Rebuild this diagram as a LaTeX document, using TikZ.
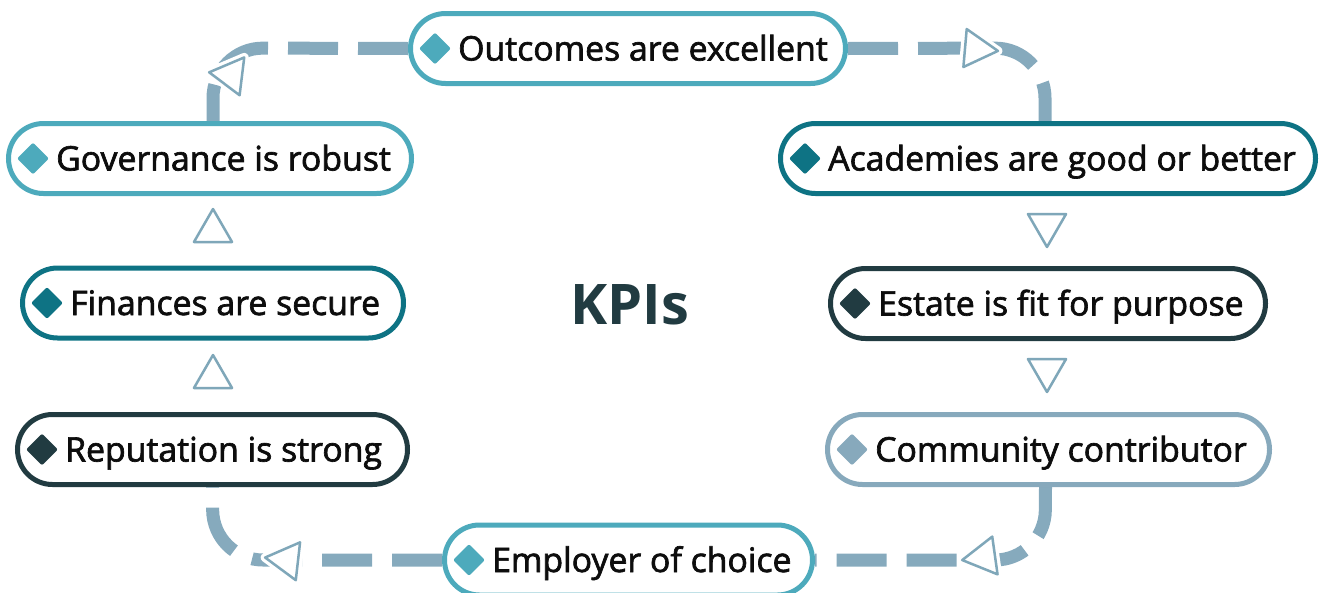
\documentclass[tikz,border=0pt]{standalone}
\usepackage{fontspec}
\setmainfont{Open Sans}
\newfontfamily\labfont[FakeBold=2]{Open Sans}
\usetikzlibrary{shapes.misc,shapes.geometric,calc}
\definecolor{cLight}{HTML}{4DAABC}
\definecolor{cTeal}{HTML}{0E7384}
\definecolor{cDark}{HTML}{213B41}
\definecolor{cGrey}{HTML}{87A9BC}
\definecolor{cLine}{HTML}{86AABD}
\definecolor{cTri}{HTML}{7FA7B9}
\begin{document}
\begin{tikzpicture}[x=1pt,y=-1pt,
 pill/.style={rounded rectangle, draw=#1, line width=5pt, fill=white, minimum height=70pt, inner sep=0pt},
 bullet/.style={diamond, fill=#1, minimum width=32pt, minimum height=32pt, inner sep=0pt, rounded corners=2pt},
 lab/.style={anchor=base west, inner sep=0pt, font=\labfont\fontsize{33.8}{35}\selectfont, text=black!95},
 flow/.style={draw=cLine, line width=13pt, dash pattern=on 50pt off 20pt, rounded corners=50pt},
 tri/.style={regular polygon, regular polygon sides=3, draw=cTri, line width=2.5pt, line join=round, fill=white, minimum size=44pt, inner sep=0pt, preaction={draw=white,line width=9pt}}
]
\useasboundingbox (0,0) rectangle (1322,592);

\path (628,48.5) coordinate (po) (210,158.5) coordinate (pg) (213,303) coordinate (pf)
 (212.5,449.5) coordinate (pr) (1048,158.5) coordinate (pa) (1048,303.5) coordinate (pe)
 (1048.5,449.5) coordinate (pc) (628.5,560) coordinate (pm);

% invisible placeholders to get anchors for connectors
\node[pill=cLight, minimum width=435pt, draw=none, fill=none] (o) at (po) {};
\node[pill=cLight, minimum width=403pt, draw=none, fill=none] (g) at (pg) {};
\node[pill=cDark, minimum width=390pt, draw=none, fill=none] (r) at (pr) {};
\node[pill=cTeal, minimum width=535pt, draw=none, fill=none] (a) at (pa) {};
\node[pill=cGrey, minimum width=442pt, draw=none, fill=none] (c) at (pc) {};
\node[pill=cLight, minimum width=368pt, draw=none, fill=none] (m) at (pm) {};

% connectors
\draw[flow] (o.west) -- (213,48) -- ([xshift=3pt]g.north);
\draw[flow] (o.east) -- (1045,48) -- ([xshift=-3pt]a.north);
\draw[flow] ([xshift=-3pt]c.south) -- (1045,560) -- (m.east);
\draw[flow] (m.west) -- (213,560) -- (r.south);

% visible pills
\node[pill=cLight, minimum width=435pt] (O) at (po) {};
\node[pill=cLight, minimum width=403pt] (G) at (pg) {};
\node[pill=cTeal, minimum width=381pt] (F) at (pf) {};
\node[pill=cDark, minimum width=390pt] (R) at (pr) {};
\node[pill=cTeal, minimum width=535pt] (A) at (pa) {};
\node[pill=cDark, minimum width=435pt] (E) at (pe) {};
\node[pill=cGrey, minimum width=442pt] (C) at (pc) {};
\node[pill=cLight, minimum width=368pt] (M) at (pm) {};

% bullets and labels
\foreach \n/\col/\txt in {O/cLight/Outcomes are excellent, G/cLight/Governance is robust,
  F/cTeal/Finances are secure, R/cDark/Reputation is strong, A/cTeal/Academies are good or better,
  E/cDark/Estate is fit for purpose, C/cGrey/Community contributor, M/cLight/Employer of choice}{
  \node[bullet=\col] (\n d) at ($(\n.west)+(27,0)$) {};
  \node[lab] (\n t) at ($(\n d)+(23,12)$) {\txt};
}

% arrowhead triangles
\node[tri, rotate=83] (t1) at (231,75) {};
\node[tri, rotate=-95] (t2) at (976,49) {};
\node[tri] (t3) at (213,231) {};
\node[tri] (t4) at (213,377) {};
\node[tri, rotate=180] (t5) at (1047,225) {};
\node[tri, rotate=180] (t6) at (1047,370) {};
\node[tri, rotate=98] (t7) at (984,557) {};
\node[tri, rotate=83.5] (t8) at (287,560) {};

% centre title
\node[inner sep=0pt, font=\fontsize{56}{60}\selectfont\bfseries, text=cDark] (k) at (630,305) {KPIs};
\end{tikzpicture}
\end{document}
